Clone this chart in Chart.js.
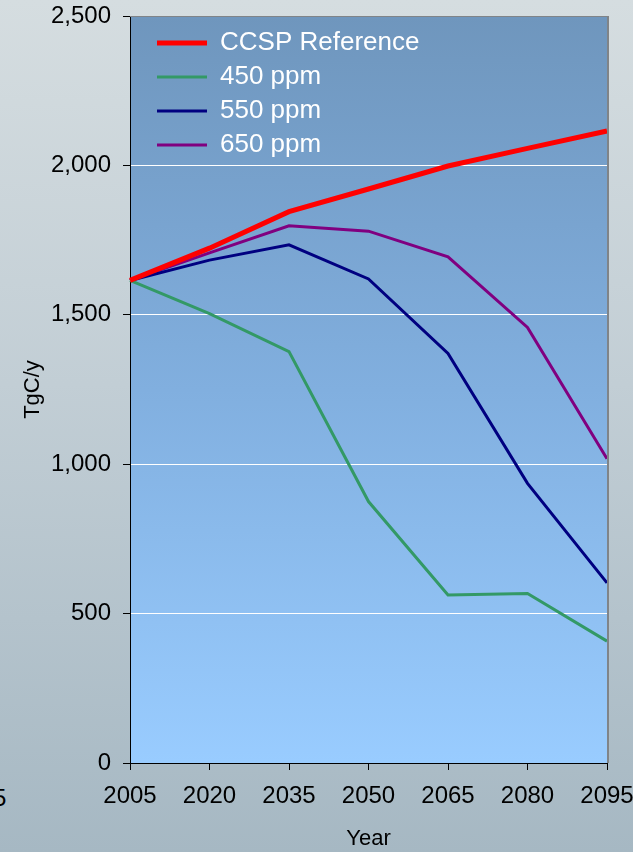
<!DOCTYPE html>
<html>
<head>
<meta charset="utf-8">
<script src="https://cdn.jsdelivr.net/npm/chart.js@4/dist/chart.umd.min.js"></script>
<style>
  html, body { margin: 0; padding: 0; }
  body {
    width: 633px; height: 852px; overflow: hidden; position: relative;
    background: linear-gradient(#d5dde0, #c2ced5 45%, #a6b8c3);
    font-family: "Liberation Sans", Arial, sans-serif;
  }
  #wrap { position: absolute; left: 0; top: 0; width: 633px; height: 852px; }
  #stray { position: absolute; left: -7px; top: 784px; font-size: 24px; color: #000; }
</style>
</head>
<body>
<div id="stray">5</div>
<div id="wrap"><canvas id="emisChart" width="633" height="852"></canvas></div>
<script>
/* ============================================================
   DATOS
============================================================ */

const years      = ["2005","2020","2035","2050","2065","2080","2095"];
const ccspRef    = [1615, 1723, 1845, 1921, 1998, 2057, 2115];
const ppm450     = [1615, 1504, 1377, 875, 562, 567, 408];
const ppm550     = [1615, 1683, 1734, 1620, 1371, 936, 603];
const ppm650     = [1615, 1707, 1798, 1780, 1694, 1458, 1018];
const yTicks     = [0, 500, 1000, 1500, 2000, 2500];

/* ============================================================
   PLUGINS: fondo del área y bordes
============================================================ */

const plotBg = {
    id: "plotBg",
    beforeDraw(chart) {
        const {ctx, chartArea: a} = chart;
        const g = ctx.createLinearGradient(0, a.top, 0, a.bottom);
        g.addColorStop(0, "#6f96bd");
        g.addColorStop(0.5, "#81afdf");
        g.addColorStop(1, "#99ccff");
        ctx.save();
        ctx.fillStyle = g;
        ctx.fillRect(a.left, a.top, a.right - a.left, a.bottom - a.top);
        ctx.restore();
    },
    afterDatasetsDraw(chart) {
        const {ctx, chartArea: a} = chart;
        ctx.save();
        ctx.strokeStyle = "#808488";
        ctx.lineWidth = 1;
        ctx.beginPath();
        ctx.moveTo(a.left, a.top + 0.5);
        ctx.lineTo(a.right, a.top + 0.5);
        ctx.stroke();
        ctx.lineWidth = 2;
        ctx.beginPath();
        ctx.moveTo(a.right + 1, a.top);
        ctx.lineTo(a.right + 1, a.bottom);
        ctx.stroke();
        ctx.restore();
    },
    afterLayout(chart) {
        // leyenda dentro del área, arriba a la izquierda
        chart.legend.left = chart.chartArea.left + 19;
        chart.legend.top = chart.chartArea.top + 6;
    }
};

/* ============================================================
   GRÁFICO
============================================================ */

const ctx = document.getElementById("emisChart");
new Chart(ctx, {
    type: "line",
    data: {
        labels: years,
        datasets: [
            { label: "CCSP Reference", data: ccspRef, borderColor: "#ff0000", backgroundColor: "#ff0000", borderWidth: 5 },
            { label: "450 ppm", data: ppm450, borderColor: "#339966", backgroundColor: "#339966", borderWidth: 3 },
            { label: "550 ppm", data: ppm550, borderColor: "#000080", backgroundColor: "#000080", borderWidth: 3 },
            { label: "650 ppm", data: ppm650, borderColor: "#800080", backgroundColor: "#800080", borderWidth: 3 }
        ]
    },
    options: {
        responsive: false,
        animation: false,
        devicePixelRatio: 1,
        layout: { padding: { left: 0, right: 26, top: 16, bottom: 0 } },
        elements: {
            point: { radius: 0 },
            line: { tension: 0, fill: false }
        },
        plugins: {
            legend: {
                position: "chartArea",
                align: "start",
                labels: {
                    usePointStyle: true,
                    pointStyle: "line",
                    pointStyleWidth: 50,
                    padding: 8,
                    color: "#ffffff",
                    font: { family: "Liberation Sans", size: 26 }
                }
            },
            tooltip: { enabled: false }
        },
        scales: {
            x: {
                offset: false,
                afterFit: s => { s.height = 89; s.paddingLeft = 0; s.paddingRight = 0; },
                grid: { drawOnChartArea: false, drawTicks: true, tickLength: 7, tickColor: "#000" },
                border: { color: "#000", width: 1 },
                ticks: { color: "#000", padding: 12, maxRotation: 0, autoSkip: false,
                         font: { family: "Liberation Sans", size: 24 } },
                title: { display: true, text: "Year", color: "#000", padding: { top: 0, bottom: 0 },
                         font: { family: "Liberation Sans", size: 22 } }
            },
            y: {
                min: 0,
                max: 2500,
                afterFit: s => { s.width = 130; s.paddingTop = 0; s.paddingBottom = 0; },
                afterBuildTicks: s => { s.ticks = yTicks.map(v => ({ value: v })); },
                grid: {
                    color: c => (c.tick && c.tick.value === 2500) ? "rgba(0,0,0,0)" : "#ffffff",
                    lineWidth: 1,
                    tickLength: 7,
                    tickColor: "#000"
                },
                border: { color: "#000", width: 1 },
                ticks: {
                    color: "#000",
                    padding: 12,
                    autoSkip: false,
                    font: { family: "Liberation Sans", size: 24 },
                    callback: v => v.toLocaleString("en-US")
                },
                title: { display: true, text: "TgC/y", color: "#000", padding: { top: 20, bottom: 0 },
                         font: { family: "Liberation Sans", size: 22 } }
            }
        }
    },
    plugins: [plotBg]
});
</script>
</body>
</html>
